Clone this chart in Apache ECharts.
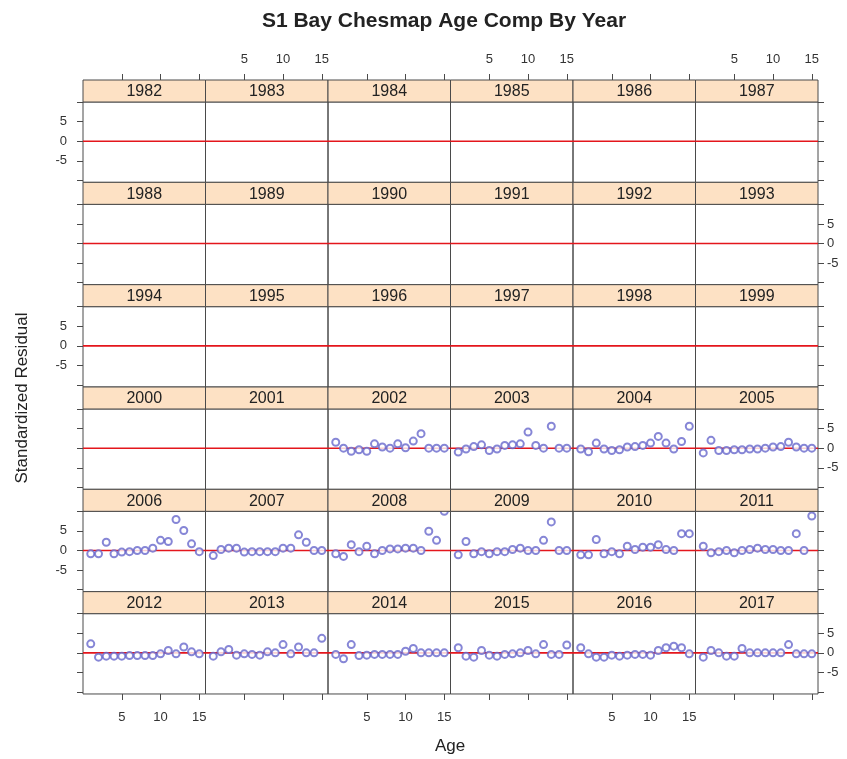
<!DOCTYPE html>
<html>
<head>
<meta charset="utf-8">
<script src="https://cdn.jsdelivr.net/npm/echarts@6/dist/echarts.min.js"></script>
<style>html,body{margin:0;padding:0;background:#fff}#c{width:847px;height:759px}</style>
</head>
<body>
<div id="c"></div>
<script>
// ---------- data ----------
const years = [1982,1983,1984,1985,1986,1987,1988,1989,1990,1991,1992,1993,1994,1995,1996,1997,1998,1999,
               2000,2001,2002,2003,2004,2005,2006,2007,2008,2009,2010,2011,2012,2013,2014,2015,2016,2017];
const ages = [1,2,3,4,5,6,7,8,9,10,11,12,13,14,15];
const xTickValues = [5,10,15];
const yTickValues = [-10,-5,0,5,10];
const yLabelValues = [-5,0,5];

const r2002 = [1.5, 0.0, -0.8, -0.4, -0.8, 1.1, 0.3, 0.0, 1.1, 0.1, 1.8, 3.7, 0.0, 0.0, 0.0];
const r2003 = [-1.0, -0.2, 0.4, 0.85, -0.6, -0.2, 0.7, 0.85, 1.1, 4.1, 0.7, 0.0, 5.6, 0.0, 0.0];
const r2004 = [-0.2, -0.9, 1.3, -0.2, -0.6, -0.4, 0.3, 0.4, 0.7, 1.3, 3.0, 1.3, -0.2, 1.7, 5.6];
const r2005 = [-1.2, 2.0, -0.6, -0.6, -0.4, -0.4, -0.2, -0.2, 0.0, 0.3, 0.4, 1.5, 0.3, 0.0, 0.0];
const r2006 = [-0.85, -0.85, 2.1, -0.85, -0.4, -0.3, 0.0, 0.0, 0.6, 2.6, 2.3, 7.9, 5.1, 1.7, -0.3];
const r2007 = [-1.3, 0.25, 0.6, 0.6, -0.4, -0.3, -0.3, -0.3, -0.3, 0.6, 0.6, 4.0, 2.1, 0.0, 0.0];
const r2008 = [-0.85, -1.5, 1.5, -0.3, 1.1, -0.85, 0.0, 0.4, 0.4, 0.6, 0.6, 0.0, 4.9, 2.6, 10.0];
const r2009 = [-1.1, 2.3, -0.85, -0.3, -0.85, -0.3, -0.3, 0.25, 0.6, 0.0, 0.0, 2.6, 7.3, 0.0, 0.0];
const r2010 = [-1.1, -1.1, 2.8, -0.85, -0.3, -0.85, 1.1, 0.25, 0.85, 0.85, 1.5, 0.25, 0.0, 4.3, 4.3];
const r2011 = [1.1, -0.6, -0.3, 0.0, -0.6, 0.0, 0.25, 0.6, 0.25, 0.25, 0.0, 0.0, 4.3, 0.0, 8.8];
const r2012 = [2.3, -1.1, -0.85, -0.85, -0.85, -0.7, -0.7, -0.7, -0.7, -0.25, 0.6, -0.25, 1.5, 0.25, -0.25];
const r2013 = [-0.85, 0.25, 0.85, -0.6, -0.25, -0.4, -0.6, 0.25, 0.0, 2.1, -0.25, 1.5, 0.0, 0.0, 3.7];
const r2014 = [-0.4, -1.5, 2.1, -0.7, -0.6, -0.4, -0.4, -0.4, -0.4, 0.4, 1.1, 0.0, 0.0, 0.0, 0.0];
const r2015 = [1.3, -0.85, -1.1, 0.6, -0.6, -0.85, -0.4, -0.25, 0.0, 0.6, -0.25, 2.1, -0.4, -0.4, 2.0];
const r2016 = [1.3, -0.25, -1.1, -1.1, -0.6, -0.85, -0.6, -0.4, -0.4, -0.6, 0.6, 1.3, 1.7, 1.3, -0.25];
const r2017 = [-1.1, 0.6, 0.0, -0.85, -0.85, 1.1, 0.0, 0.0, 0.0, 0.0, 0.0, 2.1, -0.25, -0.25, -0.25];

const residuals = {2002:r2002,2003:r2003,2004:r2004,2005:r2005,2006:r2006,2007:r2007,2008:r2008,2009:r2009,
  2010:r2010,2011:r2011,2012:r2012,2013:r2013,2014:r2014,2015:r2015,2016:r2016,2017:r2017};

// ---------- layout ----------
const X_MIN = 0, X_MAX = 15.8, Y_MIN = -10.5, Y_MAX = 10.0;
const L = 83, T = 80, COLW = 122.5, ROWH = 102.33, STRIPH = 22, NC = 6, NR = 6;
const PANELH = ROWH - STRIPH;
const FRAME = '#4a4a4a';
const FONT = 'Liberation Sans, Arial, sans-serif';
const tickStyle = {color: FRAME, width: 1};
const labelStyle = {color: '#333', fontSize: 13, fontFamily: FONT};
const noLine = {show: false, onZero: false};

const grids = [], xAxes = [], yAxes = [], series = [], graphics = [];
for (let i = 0; i < years.length; i++) {
  const r = Math.floor(i / NC), c = i % NC;
  const gx = L + c * COLW, gy = T + r * ROWH;
  grids.push({left: gx, top: gy + STRIPH, width: COLW, height: PANELH,
    show: true, borderColor: FRAME, borderWidth: 1, backgroundColor: 'transparent'});
  const xi = xAxes.length;
  xAxes.push({gridIndex: i, type: 'value', min: X_MIN, max: X_MAX, position: 'bottom',
    axisLine: noLine, splitLine: {show: false},
    axisTick: {show: r === NR - 1, length: 6, customValues: xTickValues, lineStyle: tickStyle},
    axisLabel: {show: r === NR - 1 && c % 2 === 0, margin: 17, customValues: xTickValues, ...labelStyle}});
  if (r === 0) {
    xAxes.push({gridIndex: i, type: 'value', min: X_MIN, max: X_MAX, position: 'top', offset: STRIPH,
      axisLine: noLine, splitLine: {show: false},
      axisTick: {show: true, length: 6, customValues: xTickValues, lineStyle: tickStyle},
      axisLabel: {show: c % 2 === 1, margin: 14, customValues: xTickValues, ...labelStyle}});
  }
  const yi = yAxes.length;
  yAxes.push({gridIndex: i, type: 'value', min: Y_MIN, max: Y_MAX, position: 'left',
    axisLine: noLine, splitLine: {show: false},
    axisTick: {show: c === 0, length: 6, customValues: yTickValues, lineStyle: tickStyle},
    axisLabel: {show: c === 0 && r % 2 === 0, margin: 16, customValues: yLabelValues, ...labelStyle}});
  if (c === NC - 1) {
    yAxes.push({gridIndex: i, type: 'value', min: Y_MIN, max: Y_MAX, position: 'right',
      axisLine: noLine, splitLine: {show: false},
      axisTick: {show: true, length: 6, customValues: yTickValues, lineStyle: tickStyle},
      axisLabel: {show: r % 2 === 1, margin: 9, customValues: yLabelValues, ...labelStyle}});
  }
  // zero reference line
  series.push({type: 'line', xAxisIndex: xi, yAxisIndex: yi, data: [[X_MIN, 0], [X_MAX, 0]],
    symbol: 'none', silent: true, lineStyle: {color: '#e4161c', width: 1.6}, z: 2});
  const vals = residuals[years[i]];
  if (vals) {
    series.push({type: 'scatter', xAxisIndex: xi, yAxisIndex: yi,
      data: ages.map((a, k) => [a, vals[k]]),
      symbol: 'emptyCircle', symbolSize: 7, z: 3,
      itemStyle: {color: '#6868cc', borderColor: '#6868cc', borderWidth: 1.1}});
  }
  // strip
  graphics.push({type: 'rect', shape: {x: gx, y: gy, width: COLW, height: STRIPH},
    style: {fill: '#fde1c4', stroke: FRAME, lineWidth: 1}, z: 10});
  graphics.push({type: 'text', x: gx + COLW / 2, y: gy + STRIPH / 2 + 1, z: 11,
    style: {text: String(years[i]), textAlign: 'center', textVerticalAlign: 'middle',
      fontSize: 16, fontFamily: FONT, fill: '#222'}});
}

graphics.push({type: 'text', x: 444, y: 21, z: 11,
  style: {text: 'S1 Bay Chesmap Age Comp By Year', textAlign: 'center', textVerticalAlign: 'middle',
    fontSize: 21, fontWeight: 'bold', fontFamily: FONT, fill: '#222'}});
graphics.push({type: 'text', x: 450, y: 746, z: 11,
  style: {text: 'Age', textAlign: 'center', textVerticalAlign: 'middle',
    fontSize: 17, fontFamily: FONT, fill: '#222'}});
graphics.push({type: 'text', x: 22, y: 398, rotation: Math.PI / 2, z: 11,
  style: {text: 'Standardized Residual', textAlign: 'center', textVerticalAlign: 'middle',
    fontSize: 17, fontFamily: FONT, fill: '#222'}});

const chart = echarts.init(document.getElementById('c'), null, {renderer: 'canvas'});
chart.setOption({
  animation: false,
  backgroundColor: '#ffffff',
  grid: grids, xAxis: xAxes, yAxis: yAxes, series: series,
  graphic: graphics
});
</script>
</body>
</html>
